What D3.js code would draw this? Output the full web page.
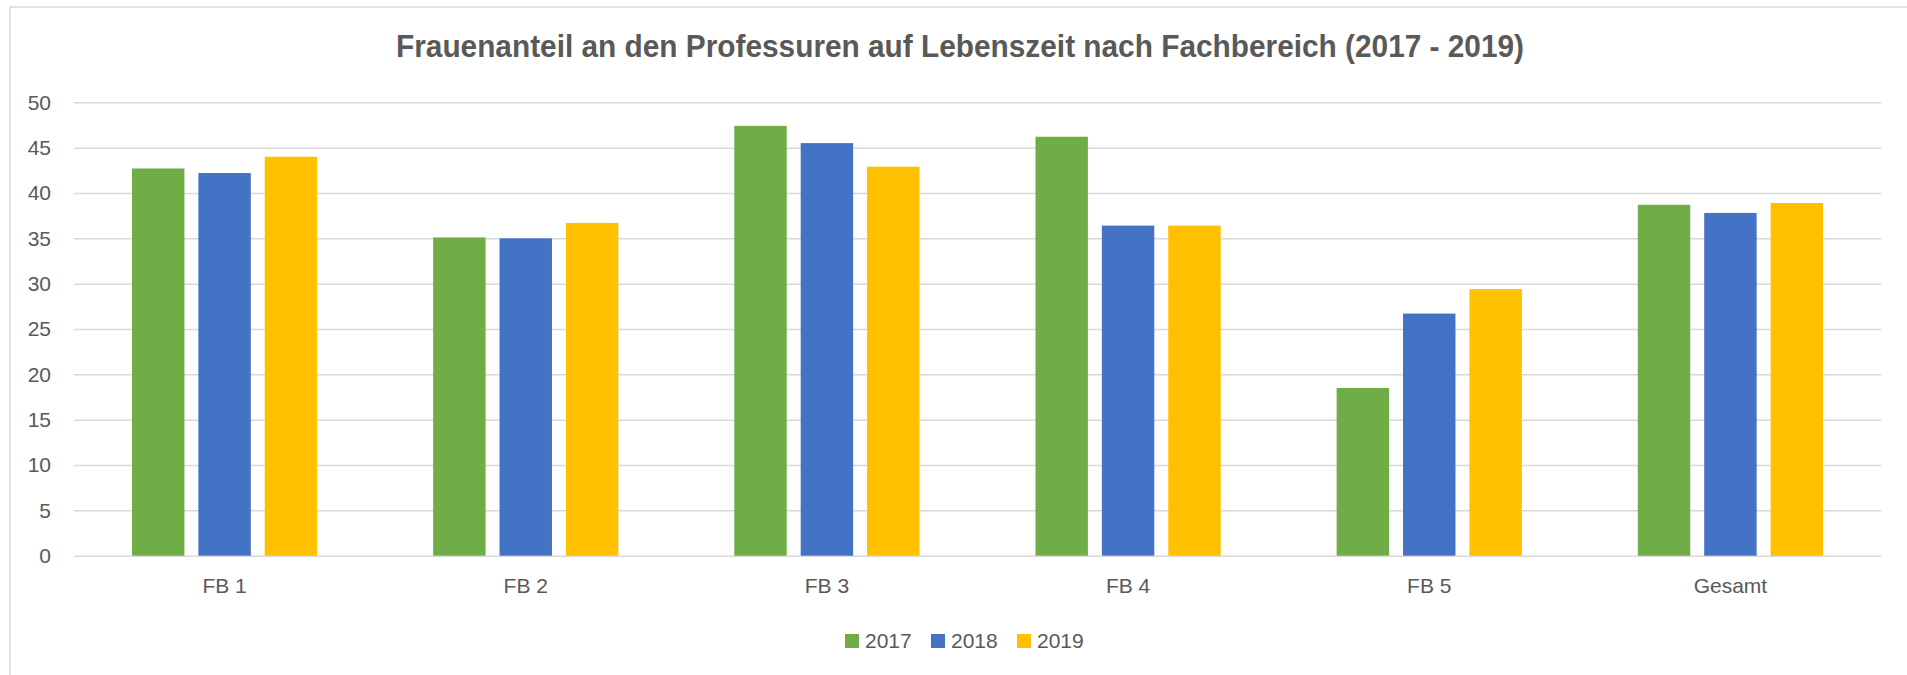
<!DOCTYPE html>
<html>
<head>
    <script src="https://d3js.org/d3.v7.min.js"></script>
    <style>
        body { margin: 0; background: #fff; }
        svg { display: block; }
        .tick text { font-family: "Liberation Sans", Arial, sans-serif; font-size: 21px; fill: #595959; }
    </style>
</head>
<body>
    <svg id="chart" width="1907" height="675"></svg>

    <script>
        var categories = ["FB 1", "FB 2", "FB 3", "FB 4", "FB 5", "Gesamt"];
        var years = ["2017", "2018", "2019"];
        var values2017 = [42.7, 35.1, 47.4, 46.2, 18.5, 38.7];
        var values2018 = [42.2, 35.0, 45.5, 36.4, 26.7, 37.8];
        var values2019 = [44.0, 36.7, 42.9, 36.4, 29.4, 38.9];
        var yTicks = [0, 5, 10, 15, 20, 25, 30, 35, 40, 45, 50];
        var colors = ["#70AD47", "#4472C4", "#FFC000"];

        var series = [values2017, values2018, values2019];
        var data = categories.map((c, i) => ({ cat: c, vals: years.map((y, j) => ({ year: y, value: series[j][i] })) }));

        var svg = d3.select("#chart");

        // chart frame (top and left edge visible)
        svg.append("rect").attr("x", 10).attr("y", 7).attr("width", 1950).attr("height", 700)
            .attr("fill", "none").attr("stroke", "#d9d9d9").attr("stroke-width", 1.5);

        var x0 = d3.scaleBand().domain(categories).range([74, 1881]).paddingInner(0.385).paddingOuter(0.1925);
        var x1 = d3.scaleBand().domain(years).range([0, x0.bandwidth()]).paddingInner(0.21);
        var y = d3.scaleLinear().domain([0, 50]).range([555.7, 102.3]);
        var colorScale = d3.scaleOrdinal().domain(years).range(colors);

        // y axis + gridlines
        var yAxis = svg.append("g").attr("transform", "translate(74,0)")
            .call(d3.axisLeft(y).tickValues(yTicks).tickSize(-1807).tickPadding(23));
        yAxis.select(".domain").remove();
        yAxis.selectAll(".tick line").attr("stroke", "#d9d9d9").attr("stroke-width", 1.5);

        // bars
        var groups = svg.selectAll(".group").data(data).enter().append("g")
            .attr("class", "group").attr("transform", d => `translate(${x0(d.cat)},0)`);
        groups.selectAll("rect").data(d => d.vals).enter().append("rect")
            .attr("x", d => x1(d.year))
            .attr("y", d => y(d.value))
            .attr("width", x1.bandwidth())
            .attr("height", d => y(0) - y(d.value))
            .attr("fill", d => colorScale(d.year));

        // x axis
        var xAxis = svg.append("g").attr("transform", "translate(0,556)")
            .call(d3.axisBottom(x0).tickSize(0).tickPadding(22));
        xAxis.select(".domain").remove();

        // title (narrowed to match the condensed original face)
        svg.append("text").attr("x", 960).attr("y", 57)
            .attr("text-anchor", "middle")
            .attr("textLength", 1128).attr("lengthAdjust", "spacingAndGlyphs")
            .style("font-family", "'Liberation Sans', Arial, sans-serif")
            .style("font-size", "32px").style("font-weight", "bold").style("fill", "#595959")
            .text("Frauenanteil an den Professuren auf Lebenszeit nach Fachbereich (2017 - 2019)");

        // legend
        var legend = svg.selectAll(".legend").data(years).enter().append("g")
            .attr("class", "legend").attr("transform", (d, i) => `translate(${845 + 86 * i}, 634)`);
        legend.append("rect").attr("width", 14).attr("height", 14).style("fill", colorScale);
        legend.append("text").attr("x", 20).attr("y", 7).attr("dy", "0.35em")
            .style("font-family", "'Liberation Sans', Arial, sans-serif")
            .style("font-size", "21px").style("fill", "#595959").text(d => d);
    </script>
</body>
</html>
